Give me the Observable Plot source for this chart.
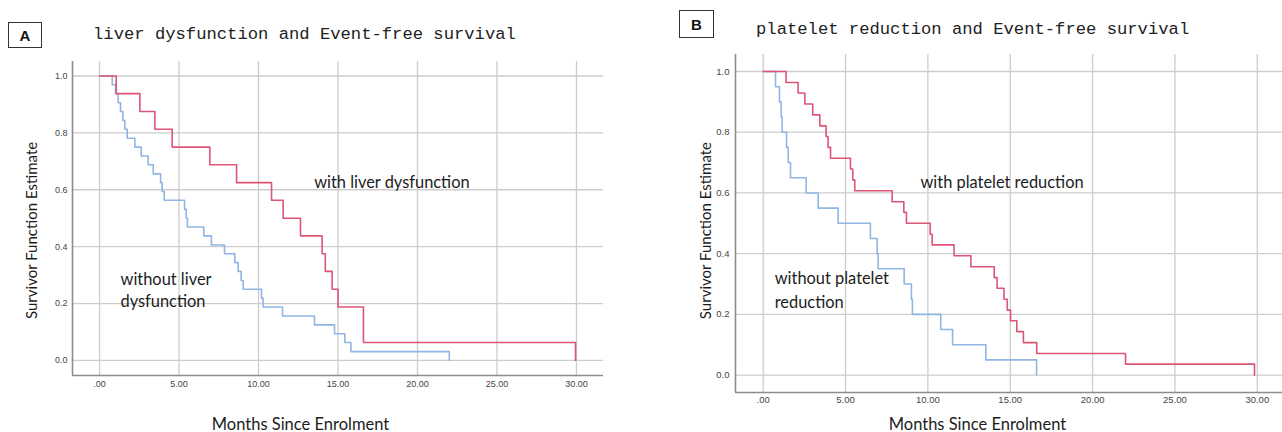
<!DOCTYPE html>
<html><head><meta charset="utf-8">
<script src="https://cdn.jsdelivr.net/npm/d3@7"></script>
<script src="https://cdn.jsdelivr.net/npm/@observablehq/plot@0.6"></script>
<style>
body{margin:0;background:#fff;}
#wrap{position:relative;width:1282px;height:432px;overflow:hidden;background:#fff;}
.panel{position:absolute;top:0;}
.tag{position:absolute;border:1.5px solid #333;font:bold 15px "Liberation Sans",Arial,sans-serif;display:flex;align-items:center;justify-content:center;box-sizing:border-box;color:#111;background:#fff;}
.title{position:absolute;font:17.2px "Liberation Mono",monospace;color:#222;white-space:nowrap;line-height:1;}
</style></head><body>
<div id="wrap">
  <div class="panel" id="pa" style="left:0px"></div>
  <div class="panel" id="pb" style="left:640px"></div>
  <div class="tag" style="left:8px;top:22px;width:34px;height:26px">A</div>
  <div class="title" style="left:93px;top:26px">liver dysfunction and Event-free survival</div>
  <div class="tag" style="left:679px;top:10px;width:35px;height:28px">B</div>
  <div class="title" style="left:756px;top:21px">platelet reduction and Event-free survival</div>
</div>
<script>
// Axis ticks
const xTicks = [0, 5, 10, 15, 20, 25, 30];
const yTicks = [0, 0.2, 0.4, 0.6, 0.8, 1.0];

// Panel A: with liver dysfunction (n=16)
const aWithT = [0, 1.05, 2.54, 3.48, 4.57, 6.94, 8.62, 10.82, 11.55, 12.64, 14.0, 14.2, 14.63, 15.0, 16.6, 29.94];
const aWithS = [1, 0.938, 0.875, 0.813, 0.75, 0.688, 0.625, 0.563, 0.5, 0.438, 0.375, 0.313, 0.25, 0.188, 0.063, 0];
// Panel A: without liver dysfunction (n=32)
const aWithoutT = [0, 0.80, 1.01, 1.17, 1.32, 1.47, 1.59, 1.74, 2.22, 2.62, 3.06, 3.38, 3.84, 3.94, 4.07, 5.35, 5.45, 5.53, 6.56, 7.04, 7.86, 8.51, 8.72, 8.91, 9.04, 10.19, 10.29, 11.51, 13.52, 14.78, 15.43, 15.81, 22.0];
const aWithoutS = [1, 0.969, 0.938, 0.906, 0.875, 0.844, 0.813, 0.781, 0.75, 0.719, 0.688, 0.656, 0.625, 0.594, 0.563, 0.531, 0.5, 0.469, 0.438, 0.406, 0.375, 0.344, 0.313, 0.281, 0.25, 0.219, 0.188, 0.156, 0.125, 0.094, 0.063, 0.031, 0];

// Panel B: with platelet reduction (n=28)
const bWithT = [0, 1.39, 2.12, 2.53, 3.01, 3.44, 3.82, 3.94, 4.09, 5.30, 5.44, 5.56, 7.83, 8.54, 8.70, 10.14, 10.26, 11.59, 12.61, 14.03, 14.2, 14.62, 14.82, 15.02, 15.4, 15.8, 16.61, 22.0, 29.83];
const bWithS = [1, 0.964, 0.929, 0.893, 0.857, 0.821, 0.786, 0.75, 0.714, 0.679, 0.643, 0.607, 0.571, 0.536, 0.5, 0.464, 0.429, 0.393, 0.357, 0.321, 0.286, 0.25, 0.214, 0.179, 0.143, 0.107, 0.071, 0.036, 0];
// Panel B: without platelet reduction (n=20)
const bWithoutT = [0, 0.75, 0.99, 1.09, 1.15, 1.42, 1.52, 1.66, 2.61, 3.34, 4.55, 6.51, 6.92, 6.98, 8.56, 9.0, 9.06, 10.78, 11.5, 13.52, 16.6];
const bWithoutS = [1, 0.95, 0.9, 0.85, 0.8, 0.75, 0.7, 0.65, 0.6, 0.55, 0.5, 0.45, 0.4, 0.35, 0.3, 0.25, 0.2, 0.15, 0.1, 0.05, 0];

const RED = "#dc5577";
const BLUE = "#8fb6e4";
const FONT = "Lato, 'Open Sans', sans-serif";
const zip = (T, S) => T.map((t, i) => ({t, s: S[i]}));

function panel(o) {
  const xDom = o.xDom, yDom = o.yDom;
  return Plot.plot({
    width: o.width, height: 432,
    marginLeft: o.ml, marginRight: o.mr, marginTop: o.mt, marginBottom: o.mb,
    style: {fontFamily: "'Liberation Sans', Arial, sans-serif", fontSize: o.tickFont + "px", color: "#444", background: "transparent"},
    x: {domain: xDom, ticks: xTicks, tickFormat: d => d === 0 ? ".00" : d.toFixed(2), tickSize: 0, tickPadding: o.xPad, label: null},
    y: {domain: yDom, ticks: yTicks, tickFormat: d => d.toFixed(1), tickSize: 0, tickPadding: o.yPad, label: null},
    marks: [
      Plot.gridX(xTicks, {stroke: "#cdcdcd", strokeOpacity: 1, strokeWidth: 1.3}),
      Plot.gridY(yTicks, {stroke: "#cdcdcd", strokeOpacity: 1, strokeWidth: 1.3}),
      Plot.ruleX([xDom[0]], {stroke: "#8c8c8c", strokeWidth: 1.6}),
      Plot.ruleY([yDom[0]], {stroke: "#8c8c8c", strokeWidth: 1.6}),
      Plot.line(zip(o.woT, o.woS), {x: "t", y: "s", curve: "step-after", stroke: BLUE, strokeWidth: 1.6}),
      Plot.line(zip(o.wT, o.wS), {x: "t", y: "s", curve: "step-after", stroke: RED, strokeWidth: 1.6}),
      Plot.text(o.notes, {x: "x", y: "y", text: "label", textAnchor: "start", fontSize: 16.4, fontFamily: FONT, fill: "#1c1c1c"}),
      Plot.text(["Months Since Enrolment"], {x: o.xLabX, frameAnchor: "bottom", dy: o.xLabDy, text: d => d, fontSize: 16.5, fontFamily: FONT, fill: "#1c1c1c"}),
      Plot.text(["Survivor Function Estimate"], {y: o.yLabY, frameAnchor: "left", textAnchor: "middle", dx: o.yLabDx, rotate: -90, text: d => d, fontSize: 15, fontFamily: FONT, fill: "#1c1c1c"})
    ]
  });
}

document.getElementById("pa").appendChild(panel({
  width: 640, ml: 72, mr: 37, mt: 61, mb: 57,
  xDom: [-1.7, 31.7], yDom: [-0.053, 1.051],
  tickFont: 9, xPad: 5, yPad: 5,
  wT: aWithT, wS: aWithS, woT: aWithoutT, woS: aWithoutS,
  notes: [
    {x: 13.5, y: 0.623, label: "with liver dysfunction"},
    {x: 1.32, y: 0.285, label: "without liver"},
    {x: 1.32, y: 0.208, label: "dysfunction"}
  ],
  xLabX: 12.64, xLabDy: 54, yLabY: 0.457, yLabDx: -40
}));

document.getElementById("pb").appendChild(panel({
  width: 642, ml: 95, mr: 0, mt: 54, mb: 40,
  xDom: [-1.68, 31.53], yDom: [-0.0574, 1.056],
  tickFont: 9.5, xPad: 4, yPad: 6,
  wT: bWithT, wS: bWithS, woT: bWithoutT, woS: bWithoutS,
  notes: [
    {x: 9.55, y: 0.632, label: "with platelet reduction"},
    {x: 0.70, y: 0.3165, label: "without platelet"},
    {x: 0.70, y: 0.239, label: "reduction"}
  ],
  xLabX: 13.01, xLabDy: 37, yLabY: 0.476, yLabDx: -29
}));
</script>
</body></html>
